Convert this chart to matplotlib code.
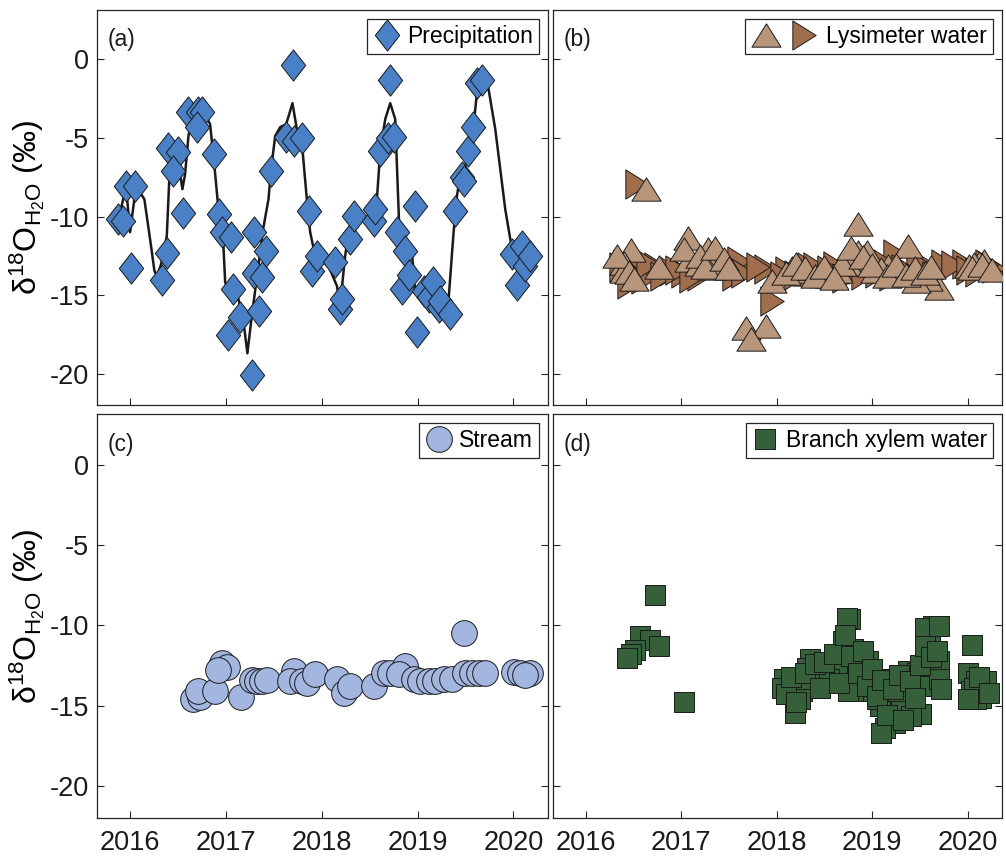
import matplotlib
matplotlib.use("Agg")
import matplotlib.pyplot as plt
from matplotlib.path import Path
from matplotlib.legend_handler import HandlerTuple

plt.rcParams['font.family'] = ['Liberation Sans', 'DejaVu Sans']
plt.rcParams['mathtext.fontset'] = 'custom'
plt.rcParams['mathtext.rm'] = 'Liberation Sans'
plt.rcParams['mathtext.it'] = 'Liberation Sans:italic'
plt.rcParams['axes.unicode_minus'] = False

# ---------------- data ----------------
precip_t = [2015.875, 2015.927, 2015.955, 2016.052, 2016.010, 2016.331, 2016.383, 2016.397, 2016.498,
            2016.449, 2016.556, 2016.605, 2016.707, 2016.748, 2016.696, 2016.877, 2016.929, 2016.957,
            2017.054, 2017.026, 2017.078, 2017.148, 2017.270, 2017.297, 2017.297, 2017.375, 2017.347,
            2017.420, 2017.469, 2017.628, 2017.698, 2017.712, 2017.792, 2017.868, 2017.897, 2017.949,
            2018.140, 2018.192, 2018.210, 2018.296, 2018.331, 2018.540, 2018.557, 2018.610, 2018.690,
            2018.714, 2018.756, 2018.784, 2018.836, 2018.863, 2018.915, 2018.968, 2018.993, 2019.062,
            2019.114, 2019.160, 2019.218, 2019.236, 2019.340, 2019.392, 2019.462, 2019.486, 2019.528,
            2019.580, 2019.619, 2019.671, 2019.984, 2020.037, 2020.089, 2020.123, 2020.175]
precip_v = [-10.17, -10.30, -8.07, -8.07, -13.29, -14.06, -12.34, -5.65, -5.90,
            -7.11, -9.79, -3.36, -3.36, -3.36, -4.31, -6.03, -9.85, -10.98,
            -11.32, -17.56, -14.63, -16.41, -20.11, -11.00, -13.61, -13.87, -16.01,
            -12.19, -7.11, -4.95, -0.36, -5.20, -5.01, -9.64, -13.46, -12.51,
            -12.91, -15.90, -15.27, -11.45, -9.96, -10.28, -9.54, -5.84, -5.01,
            -1.30, -4.95, -10.98, -14.63, -12.19, -13.74, -9.36, -17.37, -14.74,
            -15.14, -14.18, -15.78, -15.38, -16.18, -9.64, -7.50, -7.75, -5.84,
            -4.31, -1.51, -1.30, -12.40, -14.38, -11.87, -13.15, -12.51]

# smoothed curve through precipitation
curve_t = [2015.875, 2015.916, 2015.958, 2016.000, 2016.031, 2016.063, 2016.149, 2016.209, 2016.254,
           2016.282, 2016.324, 2016.383, 2016.400, 2016.418, 2016.459, 2016.501, 2016.546, 2016.574,
           2016.609, 2016.647, 2016.678, 2016.731, 2016.783, 2016.835, 2016.880, 2016.922, 2016.974,
           2016.992, 2017.044, 2017.131, 2017.180, 2017.224, 2017.270, 2017.339, 2017.388, 2017.444,
           2017.469, 2017.514, 2017.566, 2017.628, 2017.660, 2017.694, 2017.740, 2017.792, 2017.844,
           2017.879, 2017.931, 2018.070, 2018.158, 2018.192, 2018.244, 2018.279, 2018.419, 2018.523,
           2018.575, 2018.610, 2018.662, 2018.714, 2018.766, 2018.801, 2018.808, 2018.940, 2018.975,
           2019.027, 2019.111, 2019.323, 2019.375, 2019.410, 2019.445, 2019.497, 2019.567, 2019.619,
           2019.688, 2019.740, 2019.810, 2019.914, 2019.967, 2020.037, 2020.123, 2020.193]
curve_v = [-10.17, -9.22, -8.06, -11.00, -9.53, -8.06, -8.90, -11.45, -13.46,
           -13.80, -13.03, -11.24, -8.90, -6.35, -5.71, -6.35, -8.26, -7.30,
           -4.87, -3.68, -3.36, -3.36, -3.49, -4.12, -6.78, -9.54, -11.87,
           -14.18, -14.95, -15.27, -16.54, -18.71, -16.33, -13.15, -10.81, -8.90,
           -7.10, -4.87, -4.31, -4.12, -3.49, -2.78, -4.44, -5.27, -8.90,
           -11.00, -12.51, -13.15, -14.42, -15.59, -12.51, -11.00, -10.17, -9.96,
           -8.90, -5.82, -3.80, -2.78, -3.80, -9.54, -10.60, -12.27, -14.82,
           -15.27, -15.46, -15.27, -11.00, -8.69, -7.41, -6.78, -5.27, -2.08,
           -1.45, -1.89, -4.44, -9.54, -11.45, -13.15, -13.46, -12.72]

lys_a_t = [2016.632, 2016.476, 2016.396, 2016.396, 2016.770, 2017.066, 2017.076, 2017.031, 2017.190,
           2017.274, 2017.344, 2017.430, 2017.326, 2017.951, 2017.674, 2017.882, 2017.726, 2018.847,
           2018.854, 2018.941, 2018.784, 2018.750, 2019.375, 2019.705, 2020.174, 2020.122, 2020.070,
           2020.018, 2018.316, 2018.229, 2018.159, 2018.542, 2018.646, 2019.167, 2019.097, 2019.305,
           2019.514, 2019.583, 2019.461, 2019.028, 2018.680,
           2016.330, 2016.450, 2016.500, 2017.200, 2017.250, 2017.350, 2017.450, 2017.500,
           2018.100, 2018.200, 2018.300, 2018.400, 2018.500, 2018.600, 2018.780, 2018.900, 2019.000,
           2019.150, 2019.250, 2019.350, 2019.450, 2019.550, 2019.620, 2020.050, 2020.150, 2020.250]
lys_a_v = [-8.26, -12.13, -12.93, -13.46, -13.20, -11.34, -12.76, -12.08, -13.00,
           -12.08, -12.61, -13.15, -13.25, -14.10, -17.07, -16.97, -17.82, -10.49,
           -12.29, -12.29, -12.51, -13.04, -11.87, -14.52, -12.83, -12.93, -13.04,
           -13.15, -13.68, -13.46, -13.25, -13.78, -13.46, -13.15, -13.36, -13.68,
           -13.89, -13.99, -14.10, -13.46, -13.04,
           -12.50, -13.50, -14.00, -12.50, -13.20, -12.00, -12.70, -13.30,
           -13.60, -13.00, -13.30, -13.80, -13.20, -13.90, -12.00, -12.60, -13.10,
           -13.80, -13.10, -13.70, -13.30, -13.60, -13.20, -13.30, -13.10, -13.40]
lys_b_t = [2016.531, 2016.406, 2016.563, 2016.736, 2016.893, 2017.014, 2017.691, 2017.882, 2017.951,
           2018.107, 2017.188, 2016.458, 2016.372, 2019.740, 2019.966, 2018.611, 2019.236, 2019.132,
           2019.479, 2018.872, 2018.472, 2020.278, 2018.333, 2018.958, 2019.323, 2017.604, 2017.479,
           2016.450, 2016.600, 2016.650, 2016.800, 2016.950, 2017.100, 2017.550, 2017.650, 2017.800,
           2018.050, 2018.200, 2018.400, 2018.550, 2018.700, 2018.900, 2019.050, 2019.200, 2019.400,
           2019.550, 2019.650, 2019.850, 2020.000, 2020.100, 2020.200]
lys_b_v = [-7.90, -13.01, -13.22, -13.22, -13.46, -13.57, -13.36, -13.36, -15.38,
           -13.46, -13.78, -13.78, -13.23, -13.04, -13.04, -13.15, -12.40, -13.04,
           -12.83, -13.36, -13.57, -13.25, -13.23, -13.23, -13.36, -12.84, -13.04,
           -14.30, -14.00, -13.00, -13.80, -13.40, -13.90, -13.80, -13.60, -13.20,
           -13.80, -13.70, -13.20, -13.40, -13.90, -13.70, -13.60, -13.80, -13.60,
           -13.30, -13.80, -13.10, -13.40, -13.50, -13.00]

stream_t = [2016.654, 2016.731, 2016.713, 2016.887, 2016.957, 2017.016, 2016.922, 2017.156, 2017.270,
            2017.323, 2017.375, 2017.427, 2017.705, 2017.670, 2017.792, 2017.844, 2017.931, 2018.158,
            2018.227, 2018.296, 2018.540, 2018.644, 2018.714, 2018.871, 2018.801, 2018.957, 2019.027,
            2019.114, 2019.184, 2019.270, 2019.358, 2019.479, 2019.497, 2019.567, 2019.636, 2019.706,
            2020.001, 2020.071, 2020.175, 2020.123]
stream_v = [-14.58, -14.44, -14.08, -14.10, -12.34, -12.61, -12.76, -14.47, -13.43,
            -13.48, -13.48, -13.43, -12.86, -13.48, -13.48, -13.58, -13.06, -13.37,
            -14.20, -13.79, -13.79, -12.96, -12.96, -12.55, -13.06, -13.37, -13.48,
            -13.48, -13.48, -13.37, -13.37, -10.48, -12.99, -12.99, -12.99, -12.95,
            -12.89, -12.99, -12.99, -13.10]

xylem_t = [2016.722, 2016.570, 2016.667, 2016.764, 2016.510, 2016.476, 2016.430, 2017.031,
           2018.768, 2018.732, 2018.698, 2018.802, 2018.351, 2018.316, 2018.628, 2018.559, 2018.628,
           2018.854, 2018.958, 2018.993, 2018.924, 2018.854, 2018.107, 2018.159, 2018.264, 2018.247,
           2018.195, 2019.184, 2019.375, 2019.472, 2019.601, 2019.705, 2019.705, 2019.601, 2019.635,
           2019.549, 2019.705, 2019.201, 2019.305, 2019.514, 2019.409, 2019.236, 2019.132, 2019.097,
           2019.080, 2019.045, 2019.184, 2019.340, 2020.042, 2020.000, 2020.087, 2020.191, 2020.139,
           2020.087, 2020.035, 2018.438, 2018.472, 2018.073, 2018.542, 2018.750, 2019.010, 2019.270,
           2018.050, 2018.100, 2018.150, 2018.200, 2018.300, 2018.400, 2018.450, 2018.500, 2018.600,
           2018.650, 2018.720, 2018.780, 2018.850, 2018.900, 2018.950, 2019.000, 2019.050, 2019.100,
           2019.150, 2019.220, 2019.280, 2019.320, 2019.400, 2019.450, 2019.500, 2019.550, 2019.620,
           2019.680, 2019.720, 2020.070, 2020.120, 2020.220, 2020.000]
xylem_v = [-8.09, -10.68, -10.89, -11.32, -11.57, -11.82, -12.03, -14.76,
           -9.59, -9.55, -10.99, -11.51, -12.13, -12.65, -12.13, -12.75, -12.96,
           -12.34, -12.24, -12.96, -13.48, -14.10, -13.68, -13.99, -14.10, -14.62,
           -15.45, -13.37, -12.86, -12.96, -13.79, -12.24, -13.37, -10.79, -10.06,
           -10.17, -10.06, -14.72, -15.14, -15.55, -15.65, -16.07, -16.38, -16.69,
           -15.03, -14.62, -14.10, -13.89, -11.20, -12.96, -13.48, -13.48, -14.52,
           -14.62, -14.10, -12.96, -13.48, -13.37, -13.35, -14.10, -14.10, -14.10,
           -13.90, -14.30, -13.20, -14.80, -13.00, -12.40, -13.90, -12.30, -11.80,
           -13.60, -10.60, -11.90, -13.00, -11.60, -13.80, -12.70, -14.40, -13.40,
           -15.60, -14.00, -13.10, -15.90, -13.50, -14.50, -12.50, -11.30, -12.00,
           -11.60, -14.00, -13.90, -13.20, -14.20, -14.60]

x_ticks = [2016, 2017, 2018, 2019, 2020]
y_ticks = [-20, -15, -10, -5, 0]

# ---------------- styles ----------------
c_precip = '#4A80C5'
c_lys_a = '#B8967C'
c_lys_b = '#A06E4D'
c_stream = '#A3B6DF'
c_xylem = '#356039'
edge = '#1a1a1a'

diamond = Path([(0, 1), (0.78, 0), (0, -1), (-0.78, 0), (0, 1)],
               [Path.MOVETO, Path.LINETO, Path.LINETO, Path.LINETO, Path.CLOSEPOLY])
tri_up = Path([(-1, -0.8), (1, -0.8), (0, 0.8), (-1, -0.8)],
              [Path.MOVETO, Path.LINETO, Path.LINETO, Path.CLOSEPOLY])
tri_right = Path([(-0.8, -1), (0.8, 0), (-0.8, 1), (-0.8, -1)],
                 [Path.MOVETO, Path.LINETO, Path.LINETO, Path.CLOSEPOLY])
square = Path([(-1, -1), (1, -1), (1, 1), (-1, 1), (-1, -1)],
              [Path.MOVETO, Path.LINETO, Path.LINETO, Path.LINETO, Path.CLOSEPOLY])

W, H = 1006, 857
fig = plt.figure(figsize=(W / 100, H / 100), dpi=100)


def px_axes(x0, y0, x1, y1):
    return fig.add_axes([x0 / W, 1 - y1 / H, (x1 - x0) / W, (y1 - y0) / H])


axa = px_axes(97, 10, 548, 405)
axb = px_axes(553, 10, 1002, 405)
axc = px_axes(97, 414, 548, 818)
axd = px_axes(553, 414, 1002, 818)

for ax in (axa, axb, axc, axd):
    ax.set_xlim(2015.655, 2020.36)
    ax.set_ylim(-22.0, 3.15)
    ax.set_xticks(x_ticks)
    ax.set_yticks(y_ticks)
    ax.tick_params(direction='in', length=5, width=0.8, color='#262626',
                   left=True, right=True, top=False, bottom=True, labelsize=19.5,
                   labelcolor='#1a1a1a')
    for s in ax.spines.values():
        s.set_color('#262626')
        s.set_linewidth(0.9)

for ax in (axa, axb):
    ax.tick_params(labelbottom=False)
for ax in (axb, axd):
    ax.tick_params(labelleft=False)
for ax in (axc, axd):
    ax.set_xticklabels([str(t) for t in x_ticks])
    ax.tick_params(axis='x', pad=9)
for ax in (axa, axc):
    ax.set_yticklabels([str(t) for t in y_ticks])
    ax.tick_params(axis='y', pad=6)
    ax.set_ylabel(r'$\mathregular{δ^{18}O_{H_2O}}$ (‰)', fontsize=23, labelpad=2)

mk = dict(ls='none', markeredgecolor=edge, markeredgewidth=0.7)

# (a)
axa.plot(curve_t, curve_v, color='#1a1a1a', lw=1.8, zorder=2)
ha, = axa.plot(precip_t, precip_v, marker=diamond, ms=22.5, markerfacecolor=c_precip, zorder=3, **mk)
# (b)
hb2, = axb.plot(lys_b_t, lys_b_v, marker=tri_right, ms=21, markerfacecolor=c_lys_b, zorder=3, **mk)
hb1, = axb.plot(lys_a_t, lys_a_v, marker=tri_up, ms=21, markerfacecolor=c_lys_a, zorder=4, **mk)
# (c)
hc, = axc.plot(stream_t, stream_v, marker='o', ms=18.5, markerfacecolor=c_stream, zorder=3, **mk)
# (d)
hd, = axd.plot(xylem_t, xylem_v, marker=square, ms=13.7, markerfacecolor=c_xylem, zorder=3, **mk)

leg_kw = dict(loc='upper right', fontsize=16.5, frameon=True, fancybox=False,
              borderpad=0.25, handletextpad=0.3, borderaxespad=0.4, handlelength=1.2)


def style_leg(leg):
    f = leg.get_frame()
    f.set_edgecolor('#262626')
    f.set_linewidth(0.9)
    f.set_alpha(1)


style_leg(axa.legend([ha], ['Precipitation'], **leg_kw))
kw_b = dict(leg_kw)
kw_b['handlelength'] = 3.0
style_leg(axb.legend([(hb1, hb2)], ['Lysimeter water'],
                     handler_map={tuple: HandlerTuple(ndivide=None, pad=0.25)}, **kw_b))
style_leg(axc.legend([hc], ['Stream'], **leg_kw))
style_leg(axd.legend([hd], ['Branch xylem water'], **leg_kw))

for ax, lab in ((axa, '(a)'), (axb, '(b)'), (axc, '(c)'), (axd, '(d)')):
    ax.text(0.024, 0.925, lab, transform=ax.transAxes, fontsize=16.5, va='center', ha='left',
            color='#1a1a1a')

fig.savefig('out.png', dpi=100)
